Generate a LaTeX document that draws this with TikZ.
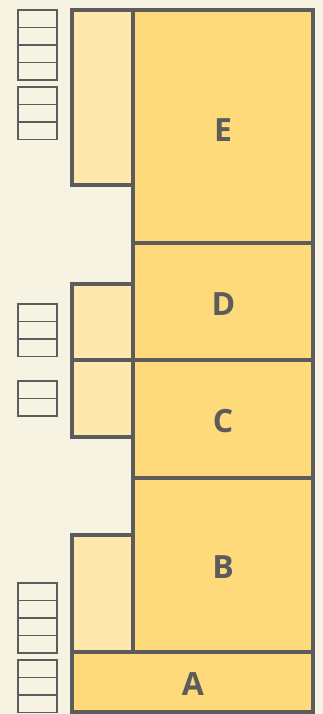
\documentclass[tikz,border=0pt]{standalone}
\usepackage{fontspec}
\setsansfont{Open Sans}
\definecolor{paper}{HTML}{F6F3E2}
\definecolor{slab}{HTML}{FFDA7B}
\definecolor{pale}{HTML}{FFE8AE}
\definecolor{edge}{HTML}{5C5C5C}
\tikzset{
  cell/.style={draw=edge,line width=1.6pt},
  block/.style={draw=edge,line width=3.4pt,line join=miter},
  tag/.style={text=edge,font=\sffamily\bfseries\fontsize{32}{38}\selectfont}
}

\begin{document}
\begin{tikzpicture}[x=1pt,y=-1pt]
  \fill[paper] (0,0) rectangle (323,714);
  \useasboundingbox (0,0) rectangle (323,714);
  % small stacks on the left
  \foreach \top/\n in {10/4,87/3,304/3,381/2,583/4,660/3}
    \foreach \i in {1,...,\n}
      \draw[cell] (18,\top+17.5*\i-17.5) rectangle (57,\top+17.5*\i);
  % pale side blocks
  \draw[block,fill=pale] (72,10) rectangle (133,185);
  \draw[block,fill=pale] (72,284) rectangle (133,360);
  \draw[block,fill=pale] (72,360) rectangle (133,437);
  \draw[block,fill=pale] (72,535) rectangle (133,652);
  % main column
  \draw[block,fill=slab] (133,10) rectangle (313,243);
  \draw[block,fill=slab] (133,243) rectangle (313,360);
  \draw[block,fill=slab] (133,360) rectangle (313,478);
  \draw[block,fill=slab] (133,478) rectangle (313,652);
  \draw[block,fill=slab] (72,652) rectangle (313,712);
  \node[tag] (e) at (223,130) {E};
  \node[tag] (d) at (223.5,304) {D};
  \node[tag] (c) at (223,421) {C};
  \node[tag] (b) at (223,567) {B};
  \node[tag] (a) at (193,684) {A};
\end{tikzpicture}
\end{document}
